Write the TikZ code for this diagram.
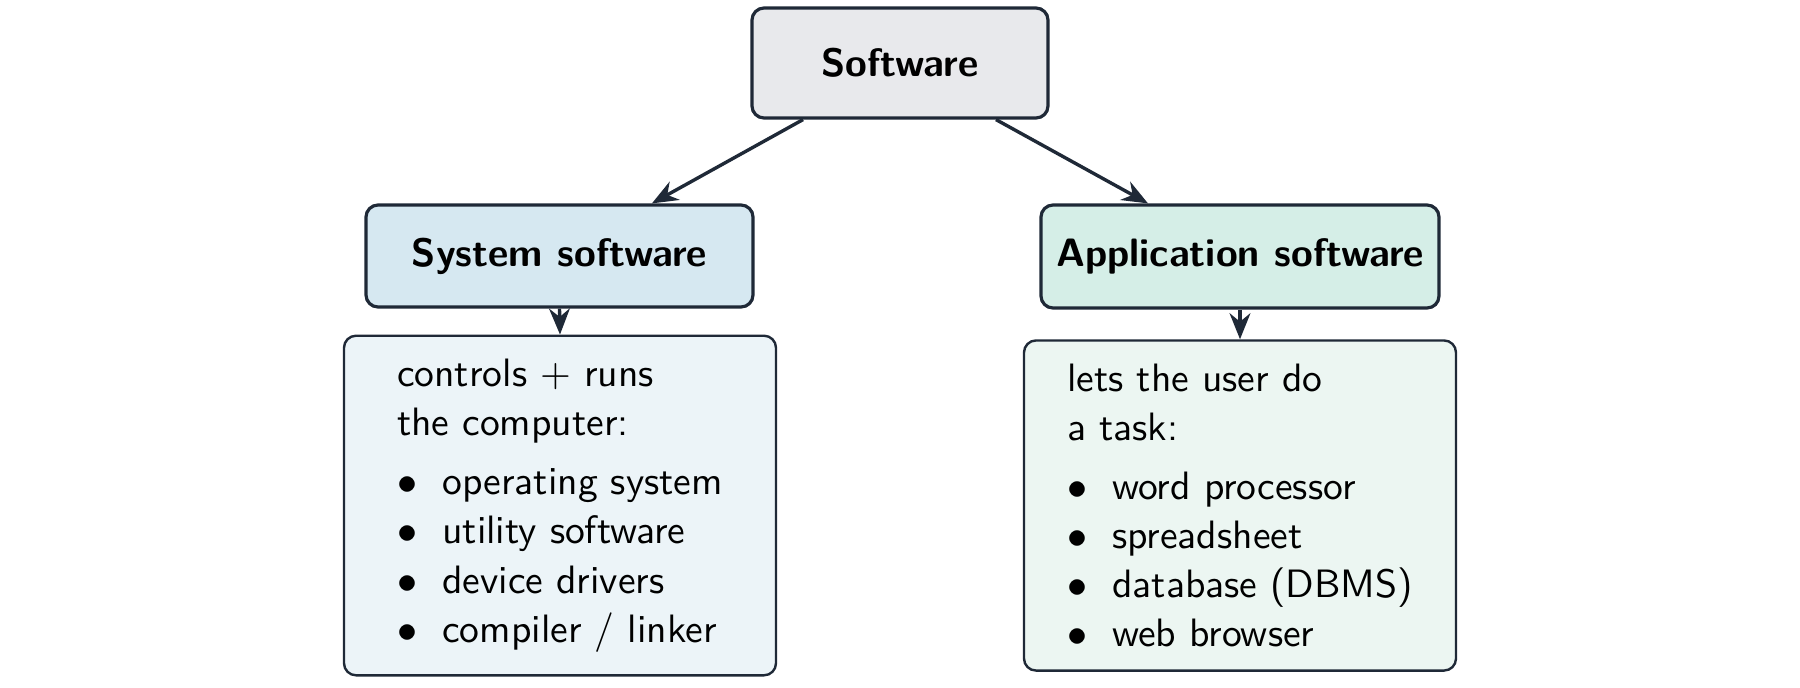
\documentclass[tikz,border=0pt]{standalone}
\usetikzlibrary{arrows.meta}
\definecolor{edgec}{HTML}{1F2937}
\definecolor{topfill}{HTML}{E8E9EC}
\definecolor{sysfill}{HTML}{D6E8F1}
\definecolor{appfill}{HTML}{D5EEE7}
\definecolor{sysdesc}{HTML}{ECF4F8}
\definecolor{appdesc}{HTML}{ECF6F2}
\newcommand\itm{\makebox[11.3pt][l]{$\bullet$}}
\begin{document}
\begin{tikzpicture}[x=0.25pt,y=-0.25pt,
  titlebox/.style={draw=edgec, line width=0.8pt, rounded corners=3pt, inner sep=0pt,
    align=center, font=\sffamily\bfseries\fontsize{9.9}{12}\selectfont},
  descbox/.style={draw=edgec, line width=0.6pt, rounded corners=3pt, inner xsep=0pt,
    inner ysep=5.8pt, align=left, minimum width=108pt,
    font=\sffamily\fontsize{9.9}{12.3}\selectfont},
  arr/.style={draw=edgec, line width=0.85pt, -{Stealth[length=6.5pt,width=5.2pt]}}]
\useasboundingbox (0,0) rectangle (1800,687);
\node[titlebox, fill=topfill, minimum width=74pt, minimum height=27.5pt] (top) at (900,63) {Software};
\node[titlebox, fill=sysfill, minimum width=96.75pt, minimum height=25.5pt] (sys) at (559.5,256) {System software};
\node[titlebox, fill=appfill, minimum width=99.5pt, minimum height=25.75pt] (app) at (1240,256.5) {Application software};
\node[descbox, fill=sysdesc] (sysd) at (560,505.5) {controls + runs\\the computer:\\[2.45pt]
  \itm operating system\\\itm utility software\\\itm device drivers\\\itm compiler / linker};
\node[descbox, fill=appdesc] (appd) at (1240,505.5) {lets the user do\\a task:\\[2.45pt]
  \itm word processor\\\itm spreadsheet\\\itm database (DBMS)\\\itm web browser};
\draw[arr] ([xshift=-24.25pt]top.south) -- ([xshift=23.1pt]sys.north);
\draw[arr] ([xshift=24pt]top.south) -- ([xshift=-23pt]app.north);
\draw[arr] (sys.south) -- (sysd.north);
\draw[arr] (app.south) -- (appd.north);
\end{tikzpicture}
\end{document}
